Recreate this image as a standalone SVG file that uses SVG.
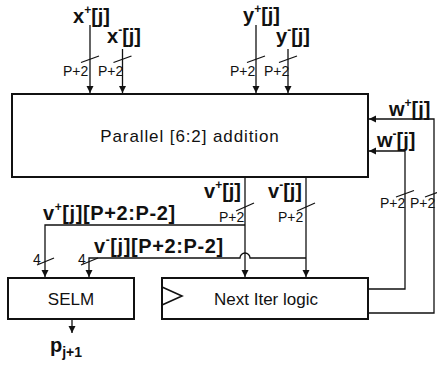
<svg xmlns="http://www.w3.org/2000/svg" width="437" height="367" viewBox="0 0 437 367">
<style>
.box{fill:#fff;stroke:#111;stroke-width:2}
.wire{fill:none;stroke:#111;stroke-width:1.3}
.arr{marker-end:url(#ah)}
.sig{font-family:"Liberation Sans",Arial,sans-serif;font-weight:bold;font-size:20px;fill:#111}
.sup{font-size:12px}
.bw{font-family:"Liberation Sans",Arial,sans-serif;font-size:14px;fill:#111}
.lbl{font-family:"Liberation Sans",Arial,sans-serif;font-size:17px;fill:#111;text-anchor:middle}
</style>
<defs>
<marker id="ah" viewBox="0 0 10 10" refX="10" refY="5" markerWidth="7" markerHeight="10" markerUnits="userSpaceOnUse" orient="auto">
<path d="M0,0 L10,5 L0,10 z" fill="#111"/>
</marker>
</defs>
<rect width="437" height="367" fill="#fff"/>
<g id="connectors">
<line class="wire arr" x1="90" y1="25" x2="90" y2="93"/>
<line class="wire arr" x1="122.5" y1="49" x2="122.5" y2="93"/>
<line class="wire arr" x1="256" y1="25" x2="256" y2="93"/>
<line class="wire arr" x1="288" y1="49" x2="288" y2="93"/>
<polyline class="wire arr" points="368,313 434,313 434,119 369,119"/>
<polyline class="wire arr" points="368,289 405,289 405,151 369,151"/>
<line class="wire arr" x1="245" y1="177" x2="245" y2="277"/>
<polyline class="wire arr" points="245,225 45,225 45,277"/>
<line class="wire arr" x1="306" y1="177" x2="306" y2="277"/>
<path class="wire arr" d="M306,258 H250 A5,5 0 0 0 240,258 H89 V277"/>
<line class="wire arr" x1="72" y1="319" x2="72" y2="333"/>
<g class="wire">
<line x1="81" y1="62.5" x2="99" y2="56"/>
<line x1="113.5" y1="62.5" x2="131.5" y2="56"/>
<line x1="247" y1="62.5" x2="265" y2="56"/>
<line x1="279" y1="62.5" x2="297" y2="56"/>
<line x1="236" y1="211" x2="254" y2="203"/>
<line x1="297" y1="211" x2="315" y2="203"/>
<line x1="396" y1="197" x2="414" y2="190.5"/>
<line x1="425" y1="197" x2="437" y2="192.5"/>
<line x1="37" y1="265" x2="54" y2="258"/>
<line x1="81" y1="265" x2="98" y2="258"/>
</g>
</g>
<g id="adder">
<rect class="box" x="12" y="94" width="356" height="83"/>
<text class="lbl" x="190" y="142" letter-spacing="0.9">Parallel [6:2] addition</text>
</g>
<g id="selm">
<rect class="box" x="8" y="278" width="126" height="41"/>
<text class="lbl" x="71" y="305">SELM</text>
</g>
<g id="next-iter">
<rect class="box" x="162" y="278" width="206" height="41"/>
<polyline class="wire" points="162,287 182,296 162,305" style="stroke-width:1.6"/>
<text class="lbl" x="266" y="305">Next Iter logic</text>
</g>
<g id="labels">
<text class="sig" x="73" y="23">x<tspan class="sup" dy="-9">+</tspan><tspan dy="9">[j]</tspan></text>
<text class="sig" x="107" y="43">x<tspan class="sup" dy="-9">-</tspan><tspan dy="9">[j]</tspan></text>
<text class="sig" x="243" y="22">y<tspan class="sup" dy="-9">+</tspan><tspan dy="9">[j]</tspan></text>
<text class="sig" x="276" y="43">y<tspan class="sup" dy="-9">-</tspan><tspan dy="9">[j]</tspan></text>
<text class="sig" x="389" y="116">w<tspan class="sup" dy="-9">+</tspan><tspan dy="9">[j]</tspan></text>
<text class="sig" x="377" y="147">w<tspan class="sup" dy="-9">-</tspan><tspan dy="9">[j]</tspan></text>
<text class="sig" x="204" y="198">v<tspan class="sup" dy="-9">+</tspan><tspan dy="9">[j]</tspan></text>
<text class="sig" x="268" y="198">v<tspan class="sup" dy="-9">-</tspan><tspan dy="9">[j]</tspan></text>
<text class="sig" x="43" y="220" style="letter-spacing:0.6px">v<tspan class="sup" dy="-9">+</tspan><tspan dy="9">[j][P+2:P-2]</tspan></text>
<text class="sig" x="94" y="253" style="letter-spacing:0.6px">v<tspan class="sup" dy="-9">-</tspan><tspan dy="9">[j][P+2:P-2]</tspan></text>
<text class="sig" x="50" y="352">p<tspan font-size="14" dy="5">j+1</tspan></text>
<text class="bw" x="63" y="76">P+2</text>
<text class="bw" x="98" y="76">P+2</text>
<text class="bw" x="230" y="76">P+2</text>
<text class="bw" x="264" y="76">P+2</text>
<text class="bw" x="219" y="222">P+2</text>
<text class="bw" x="278" y="222">P+2</text>
<text class="bw" x="380" y="208">P+2</text>
<text class="bw" x="410" y="208">P+2</text>
<text class="bw" x="33" y="264" font-size="15">4</text>
<text class="bw" x="78" y="264" font-size="15">4</text>
</g>
</svg>
